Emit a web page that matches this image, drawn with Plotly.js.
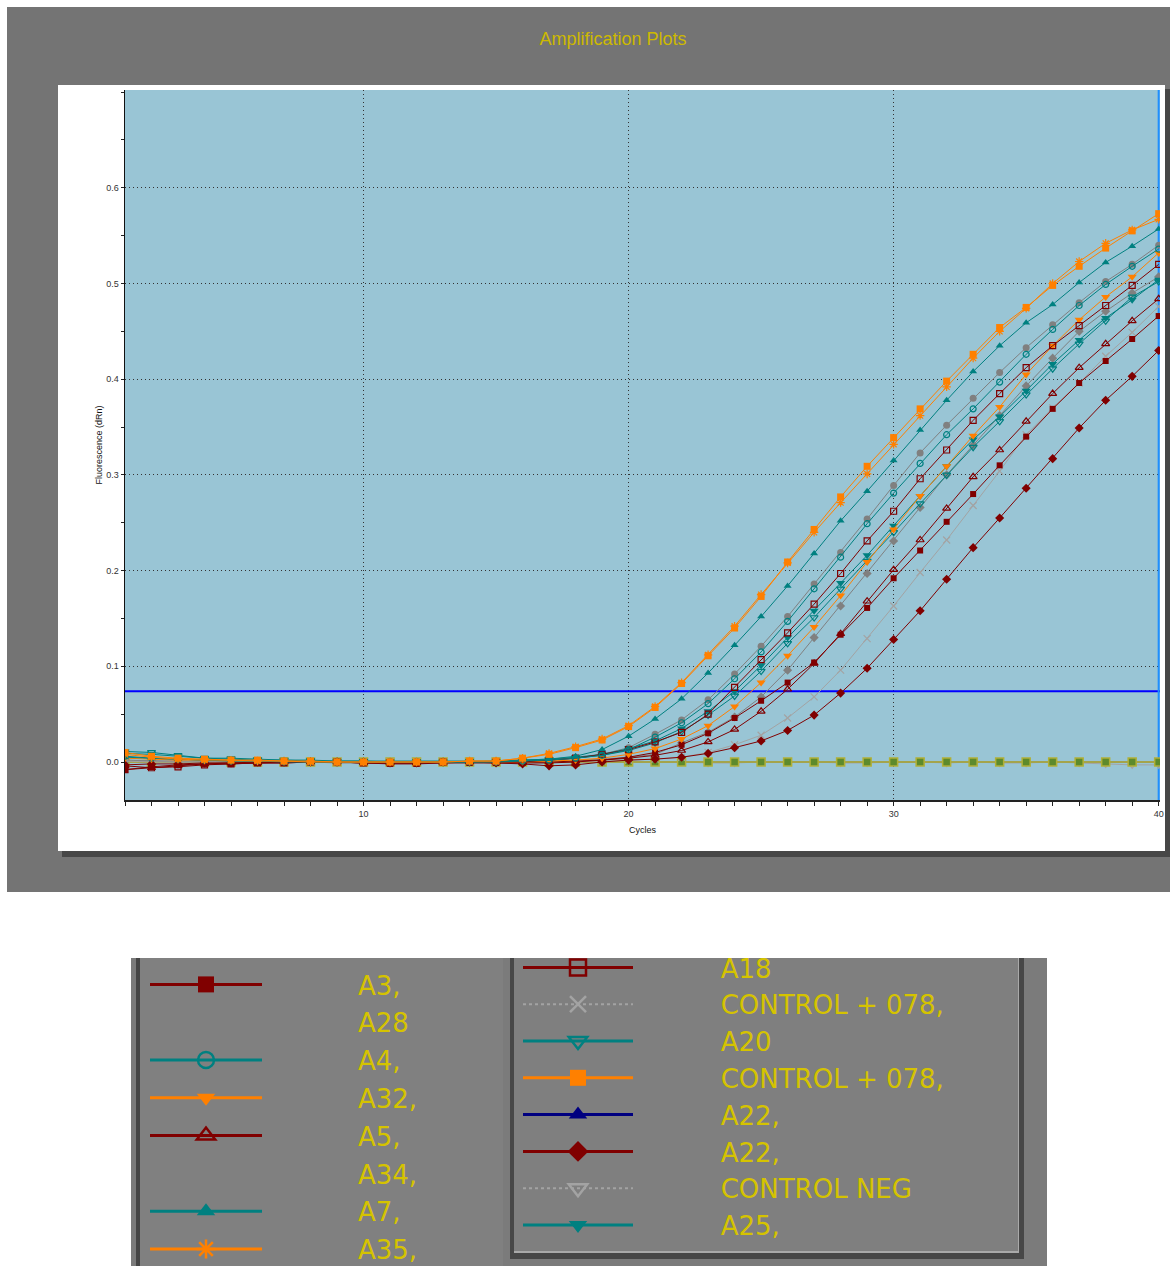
<!DOCTYPE html>
<html>
<head>
<meta charset="utf-8">
<script src="https://cdn.plot.ly/plotly-3.0.1.min.js"></script>
<style>html,body{margin:0;padding:0;background:#fff;}#chart{width:1170px;height:1266px;}</style>
</head>
<body>
<div id="chart"></div>
<script>
// ---------------- DATA ----------------
const cycles = [1,2,3,4,5,6,7,8,9,10,11,12,13,14,15,16,17,18,19,20,21,22,23,24,25,26,27,28,29,30,31,32,33,34,35,36,37,38,39,40];

const ctrl078Orange = [0.010,0.006,0.004,0.003,0.002,0.002,0.001,0.001,0.000,0.000,0.000,0.000,0.000,0.001,0.001,0.004,0.008,0.015,0.023,0.037,0.057,0.082,0.111,0.140,0.173,0.209,0.243,0.277,0.309,0.339,0.369,0.398,0.426,0.454,0.475,0.498,0.518,0.537,0.555,0.573];
const a35 = [0.008,0.005,0.003,0.002,0.002,0.001,0.001,0.000,0.000,0.000,0.000,0.000,0.000,0.001,0.001,0.004,0.009,0.016,0.024,0.038,0.058,0.083,0.112,0.142,0.175,0.208,0.240,0.271,0.301,0.332,0.362,0.392,0.422,0.450,0.474,0.500,0.523,0.542,0.556,0.567];
const a7 = [0.005,0.004,0.003,0.002,0.002,0.001,0.001,0.000,0.000,0.000,0.000,0.000,0.000,0.000,0.001,0.002,0.003,0.006,0.013,0.027,0.045,0.066,0.093,0.122,0.152,0.184,0.218,0.252,0.283,0.315,0.347,0.378,0.408,0.435,0.459,0.478,0.501,0.522,0.539,0.557];
const a28 = [0.002,0.001,0.001,0.001,0.000,0.000,0.000,0.000,-0.001,-0.001,0.000,0.000,0.000,0.000,0.000,0.001,0.002,0.004,0.008,0.015,0.029,0.044,0.065,0.092,0.121,0.152,0.186,0.219,0.254,0.289,0.323,0.352,0.380,0.407,0.433,0.457,0.480,0.502,0.520,0.540];
const a4 = [0.006,0.004,0.003,0.002,0.001,0.001,0.000,0.000,0.000,0.000,0.000,0.000,0.000,0.000,0.000,0.001,0.002,0.004,0.007,0.013,0.026,0.041,0.061,0.087,0.115,0.147,0.181,0.214,0.249,0.281,0.312,0.342,0.369,0.397,0.426,0.452,0.477,0.499,0.518,0.536];
const a18 = [-0.008,-0.006,-0.005,-0.003,-0.002,-0.001,-0.001,0.000,0.000,-0.001,-0.001,-0.001,0.000,0.000,0.000,0.000,0.002,0.004,0.008,0.013,0.021,0.031,0.050,0.078,0.107,0.135,0.165,0.197,0.231,0.262,0.296,0.326,0.357,0.385,0.412,0.435,0.456,0.477,0.498,0.520];
const a32 = [0.004,0.003,0.002,0.002,0.001,0.001,0.001,0.000,0.000,0.000,0.000,0.000,0.000,0.000,0.000,0.000,0.001,0.002,0.004,0.008,0.014,0.024,0.038,0.058,0.083,0.111,0.141,0.174,0.209,0.243,0.278,0.309,0.341,0.371,0.405,0.435,0.462,0.486,0.507,0.532];
const a25 = [0.009,0.008,0.006,0.004,0.004,0.003,0.002,0.002,0.001,0.001,0.001,0.001,0.001,0.001,0.001,0.002,0.003,0.005,0.008,0.014,0.022,0.035,0.053,0.074,0.101,0.130,0.158,0.187,0.216,0.247,0.278,0.309,0.337,0.361,0.388,0.416,0.441,0.464,0.483,0.504];
const a20 = [0.011,0.010,0.007,0.004,0.003,0.002,0.002,0.001,0.001,0.001,0.000,0.000,0.000,0.000,0.000,0.001,0.002,0.004,0.007,0.012,0.020,0.032,0.049,0.069,0.095,0.124,0.151,0.181,0.210,0.240,0.270,0.300,0.329,0.356,0.384,0.411,0.437,0.461,0.486,0.502];
const a5 = [-0.004,-0.006,-0.004,-0.002,-0.001,-0.001,0.000,0.000,0.000,-0.001,-0.001,-0.001,-0.001,0.000,0.000,0.000,0.000,0.001,0.002,0.004,0.007,0.012,0.021,0.034,0.053,0.076,0.103,0.134,0.168,0.201,0.232,0.265,0.298,0.326,0.356,0.385,0.412,0.437,0.461,0.484];
const a3 = [-0.008,-0.005,-0.003,-0.002,-0.002,-0.001,-0.001,0.000,0.000,-0.001,-0.002,-0.002,-0.001,-0.001,-0.001,-0.001,-0.001,0.000,0.002,0.005,0.010,0.018,0.030,0.046,0.064,0.083,0.104,0.133,0.161,0.192,0.221,0.251,0.280,0.310,0.340,0.369,0.396,0.419,0.442,0.466];
const ctrl078Gray = [0.001,0.000,0.000,0.000,0.000,0.000,0.000,0.000,0.000,0.000,0.000,0.000,0.000,0.000,0.000,0.000,0.000,0.000,0.001,0.002,0.003,0.005,0.010,0.018,0.028,0.046,0.068,0.096,0.129,0.163,0.198,0.232,0.268,0.304,0.342,0.370,0.396,0.424,0.449,0.476];
const a22Red = [-0.003,-0.002,-0.002,-0.001,-0.001,0.000,0.000,0.000,0.000,0.000,-0.001,-0.001,0.000,0.000,-0.001,-0.002,-0.004,-0.003,0.000,0.002,0.003,0.005,0.009,0.015,0.022,0.033,0.049,0.072,0.098,0.128,0.158,0.191,0.224,0.255,0.286,0.317,0.349,0.378,0.403,0.430];
const a34 = [0.001,0.001,0.000,0.000,0.000,0.000,0.000,0.000,0.000,0.000,0.000,0.000,0.000,0.000,0.000,0.000,0.001,0.002,0.003,0.005,0.008,0.020,0.031,0.047,0.068,0.096,0.130,0.163,0.197,0.231,0.266,0.300,0.331,0.362,0.393,0.422,0.450,0.471,0.490,0.507];
const ctrlNeg = [0.002,0.001,0.001,0.000,0.000,0.000,0.000,0.000,0.000,0.000,0.000,0.000,0.000,0.000,0.000,0.000,0.000,0.000,0.000,0.000,0.000,0.000,-0.001,-0.001,0.000,0.000,0.000,-0.001,-0.001,0.000,0.000,-0.001,0.000,-0.001,-0.001,0.000,-0.001,-0.002,-0.003,-0.003];
const a22Navy = [0.001,0.001,0.000,0.000,0.000,0.000,0.000,0.000,0.000,0.000,0.000,0.000,0.000,0.000,0.000,0.000,0.000,0.000,0.000,0.000,0.000,0.000,0.000,0.000,0.000,0.000,0.000,0.000,0.000,0.000,0.000,0.000,0.000,0.000,0.000,0.000,0.000,0.000,0.000,0.000];
const flatWell = [0.000,0.000,0.000,0.000,0.000,0.000,0.000,0.000,0.000,0.000,0.000,0.000,0.000,0.000,0.000,0.000,0.000,0.000,0.000,0.000,0.000,0.000,0.000,0.000,0.000,0.000,0.000,0.000,0.000,0.000,0.000,0.000,0.000,0.000,0.000,0.000,0.000,0.000,0.000,0.000];

const threshold = 0.074;
const cursorCycle = 40;

const xTicks = [10, 20, 30, 40];
const xTickLabels = ['10', '20', '30', '40'];
const yTicks = [0, 0.1, 0.2, 0.3, 0.4, 0.5, 0.6];
const yTickLabels = ['0.0', '0.1', '0.2', '0.3', '0.4', '0.5', '0.6'];

const leftNames = ['A3,', 'A28', 'A4,', 'A32,', 'A5,', 'A34,', 'A7,', 'A35,'];
const rightNames = ['A18', 'CONTROL + 078,', 'A20', 'CONTROL + 078,', 'A22,', 'A22,', 'CONTROL NEG', 'A25,'];

// ---------------- STYLE ----------------
const RED = '#800000', TEAL = '#008080', ORANGE = '#ff8000', GRAY = '#808080', LGRAY = '#a3a3a3', NAVY = '#000080';

// each series: values, legend column / row, style
const series = [
  {y: a22Navy,        col: 'legend2', row: 4, color: NAVY,   sym: 'triangle-up',        size: 4, lw: 0.5},
  {y: ctrlNeg,        col: 'legend2', row: 6, color: LGRAY,  sym: 'triangle-down-open', size: 7, legDash: 'dot'},
  {y: flatWell,       col: null,      row: 0, color: '#a4a44c', sym: 'square',          size: 8, lw: 2, mcolor: '#5d8a2c', mline: '#b0b038'},
  {y: a28,            col: 'legend',  row: 1, color: GRAY,   sym: 'circle',             size: 7},
  {y: a34,            col: 'legend',  row: 5, color: GRAY,   sym: 'diamond',            size: 7},
  {y: ctrl078Gray,    col: 'legend2', row: 1, color: LGRAY,  sym: 'x-thin-open',        size: 7, legDash: 'dot'},
  {y: a22Red,         col: 'legend2', row: 5, color: RED,    sym: 'diamond',            size: 7},
  {y: a3,             col: 'legend',  row: 0, color: RED,    sym: 'square',             size: 6},
  {y: a5,             col: 'legend',  row: 4, color: RED,    sym: 'triangle-up-open',   size: 7},
  {y: a20,            col: 'legend2', row: 2, color: TEAL,   sym: 'triangle-down-open', size: 7},
  {y: a25,            col: 'legend2', row: 7, color: TEAL,   sym: 'triangle-down',      size: 8},
  {y: a32,            col: 'legend',  row: 3, color: ORANGE, sym: 'triangle-down',      size: 8},
  {y: a18,            col: 'legend2', row: 0, color: RED,    sym: 'square-open',        size: 6},
  {y: a4,             col: 'legend',  row: 2, color: TEAL,   sym: 'circle-open',        size: 6},
  {y: a7,             col: 'legend',  row: 6, color: TEAL,   sym: 'triangle-up',        size: 7},
  {y: a35,            col: 'legend',  row: 7, color: ORANGE, sym: 'asterisk-open',      size: 7},
  {y: ctrl078Orange,  col: 'legend2', row: 3, color: ORANGE, sym: 'square',             size: 7}
];

const traces = [];
series.forEach(s => {
  const open = s.sym.indexOf('open') >= 0;
  traces.push({
    x: cycles, y: s.y, type: 'scatter', mode: 'lines+markers',
    showlegend: false, hoverinfo: 'skip',
    line: {color: s.color, width: s.lw || 1},
    marker: {symbol: s.sym, size: s.size, color: s.mcolor || s.color,
             line: {color: s.mline || s.color, width: s.mline ? 1.5 : (open ? 1.2 : 0)}}
  });
});

// legend entries (left column then right column), in row order
const padL = '\u00a0'.repeat(11);
const padR = '\u00a0'.repeat(10);
['legend', 'legend2'].forEach(col => {
  const names = col === 'legend' ? leftNames : rightNames;
  const pad = col === 'legend' ? padL : padR;
  names.forEach((nm, r) => {
    const s = series.find(q => q.col === col && q.row === r);
    const open = s.sym.indexOf('open') >= 0;
    traces.push({
      x: [null], y: [null], type: 'scatter', mode: 'lines+markers',
      name: pad + nm, legend: col, legendgroup: col + '_' + r, hoverinfo: 'skip',
      line: {color: s.color, width: s.legDash ? 2 : 3, dash: s.legDash || 'solid'},
      marker: {symbol: s.sym, size: 16, color: s.color,
               line: {color: s.color, width: open ? 2.5 : 0}}
    });
  });
});

// ---------------- LAYOUT ----------------
const W = 1170, H = 1266, ML = 125, MR = 10, MT = 90, MB = 466;
const PW = W - ML - MR, PH = H - MT - MB;
const px = x => (x - ML) / PW;
const py = y => (H - MB - y) / PH;
const rect = (x0, y0, x1, y1, fill) => ({type: 'rect', xref: 'paper', yref: 'paper', layer: 'below',
  x0: px(x0), x1: px(x1), y0: py(y1), y1: py(y0), fillcolor: fill, line: {width: 0}});

const xRange = [1, 40.05];
const yRange = [-0.0397, 0.7022];

const shapes = [
  // white surround of gray frame
  rect(0, 0, 1170, 7, '#ffffff'),
  rect(0, 0, 7, 1266, '#ffffff'),
  rect(0, 892, 1170, 1266, '#ffffff'),
  // shadow of inner white panel
  rect(1164, 89, 1170, 857, '#474747'),
  rect(62, 850, 1170, 857, '#474747'),
  // white panel around plot
  rect(58, 85, 1165, 90, '#ffffff'),
  rect(58, 85, 125, 851, '#ffffff'),
  rect(58, 800, 1165, 851, '#ffffff'),
  rect(1160, 85, 1165, 851, '#ffffff'),
  // legend panel
  rect(131, 958, 1047, 1266, '#7b7b7b'),
  rect(140, 958, 503, 1266, '#808080'),
  rect(136, 958, 140, 1266, '#454545'),
  rect(510, 958, 1024, 1259, '#474747'),
  rect(514, 958, 1019, 1253, '#a9a9a9'),
  rect(514, 958, 1018, 1251, '#7f7f7f'),
  // threshold and cursor
  {type: 'line', xref: 'x', yref: 'y', layer: 'between', x0: xRange[0], x1: xRange[1], y0: threshold, y1: threshold,
   line: {color: '#0000ff', width: 2}},
  {type: 'line', xref: 'x', yref: 'y', layer: 'between', x0: cursorCycle, x1: cursorCycle, y0: yRange[0], y1: yRange[1],
   line: {color: '#1e8fff', width: 2}}
];

const tickFont = {family: 'Liberation Sans, Arial, sans-serif', size: 9, color: '#333333'};
const legFont = {family: 'DejaVu Sans, sans-serif', size: 26, color: '#d5c300'};

const layout = {
  width: W, height: H,
  margin: {l: ML, r: MR, t: MT, b: MB, autoexpand: false},
  paper_bgcolor: '#747474',
  plot_bgcolor: '#99c5d5',
  hovermode: false,
  title: {text: 'Amplification Plots', xref: 'container', yref: 'container',
          x: 613 / W, xanchor: 'center', y: 1 - 39 / H, yanchor: 'middle',
          font: {family: 'Liberation Sans Narrow, Arial Narrow, Liberation Sans, Arial, sans-serif', size: 18, color: '#cdb900'}},
  xaxis: {
    range: xRange, tickmode: 'array', tickvals: xTicks, ticktext: xTickLabels,
    ticks: 'outside', ticklen: 4, tickcolor: '#222', tickwidth: 1,
    showline: true, linecolor: '#222', linewidth: 2, zeroline: false,
    showgrid: true, gridcolor: '#333', griddash: '1px,3px', gridwidth: 1,
    tickfont: tickFont,
    minor: {tickmode: 'linear', tick0: 0, dtick: 1, ticks: 'outside', ticklen: 4, tickcolor: '#222', showgrid: false},
    title: {text: 'Cycles', font: {family: 'Liberation Sans, Arial, sans-serif', size: 9, color: '#111'}, standoff: 9}
  },
  yaxis: {
    range: yRange, tickmode: 'array', tickvals: yTicks, ticktext: yTickLabels,
    ticks: 'outside', ticklen: 3, tickcolor: '#222', tickwidth: 1,
    showline: true, linecolor: '#111', linewidth: 1.5, zeroline: false,
    showgrid: true, gridcolor: '#333', griddash: '1px,3px', gridwidth: 1,
    tickfont: tickFont,
    minor: {tickmode: 'linear', tick0: 0, dtick: 0.05, ticks: 'outside', ticklen: 3, tickcolor: '#222', showgrid: false},
    title: {text: 'Fluorescence (dRn)', font: {family: 'Liberation Sans, Arial, sans-serif', size: 9, color: '#111'}, standoff: 2}
  },
  showlegend: true,
  legend: {x: px(145), y: py(961), xref: 'paper', yref: 'paper', xanchor: 'left', yanchor: 'top',
           orientation: 'v', bgcolor: 'rgba(0,0,0,0)', borderwidth: 0, font: legFont,
           itemwidth: 112, tracegroupgap: 1, itemclick: false, itemdoubleclick: false},
  legend2: {x: px(518), y: py(944), xref: 'paper', yref: 'paper', xanchor: 'left', yanchor: 'top',
           orientation: 'v', bgcolor: 'rgba(0,0,0,0)', borderwidth: 0, font: legFont,
           itemwidth: 110, tracegroupgap: 0, itemclick: false, itemdoubleclick: false},
  shapes: shapes
};

Plotly.newPlot('chart', traces, layout, {staticPlot: true, displayModeBar: false});
</script>
</body>
</html>
